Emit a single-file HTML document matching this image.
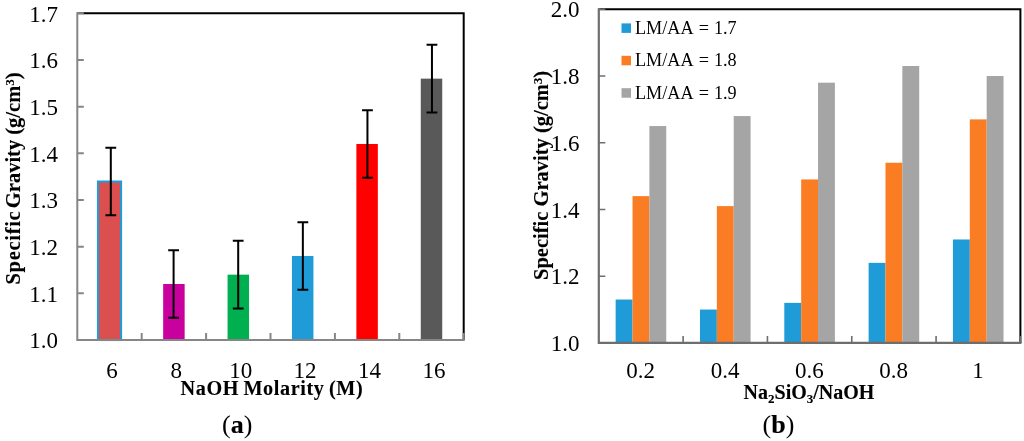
<!DOCTYPE html>
<html><head><meta charset="utf-8"><style>
html,body{margin:0;padding:0;background:#fff;width:1024px;height:441px;overflow:hidden}
svg{display:block;will-change:transform}
text{font-family:"Liberation Serif",serif;fill:#000;font-variant-ligatures:none;font-kerning:none}
[font-weight="bold"]{stroke:#000;stroke-width:0.12px}
</style></head><body>
<svg width="1024" height="441" viewBox="0 0 1024 441">
<rect width="1024" height="441" fill="#fff"/>
<path d="M77.3 13.3 H463.7 V340.0" fill="none" stroke="#000" stroke-width="2"/>
<rect x="97.95" y="181.55" width="23.1" height="158.45" fill="#DB504F" stroke="#1F9BD7" stroke-width="2.1"/>
<rect x="163.17" y="283.99" width="21.47" height="56.01" fill="#C8009E"/>
<rect x="227.57" y="274.66" width="21.47" height="65.34" fill="#00B050"/>
<rect x="291.97" y="255.99" width="21.47" height="84.01" fill="#1F9BD7"/>
<rect x="356.37" y="143.98" width="21.47" height="196.02" fill="#FF0000"/>
<rect x="420.77" y="78.64" width="21.47" height="261.36" fill="#595959"/>
<path d="M110.80 147.76 V215.34 M105.40 147.76 H116.20 M105.40 215.34 H116.20" stroke="#000" stroke-width="2" fill="none"/>
<path d="M173.60 250.20 V317.78 M168.20 250.20 H179.00 M168.20 317.78 H179.00" stroke="#000" stroke-width="2" fill="none"/>
<path d="M238.20 240.87 V308.45 M232.80 240.87 H243.60 M232.80 308.45 H243.60" stroke="#000" stroke-width="2" fill="none"/>
<path d="M302.85 222.20 V289.78 M297.45 222.20 H308.25 M297.45 289.78 H308.25" stroke="#000" stroke-width="2" fill="none"/>
<path d="M367.45 110.19 V177.77 M362.05 110.19 H372.85 M362.05 177.77 H372.85" stroke="#000" stroke-width="2" fill="none"/>
<path d="M431.95 44.85 V112.43 M426.55 44.85 H437.35 M426.55 112.43 H437.35" stroke="#000" stroke-width="2" fill="none"/>
<path d="M77.3 12.3 V340.0 H464.7" fill="none" stroke="#868686" stroke-width="2"/>
<path d="M77.3 340.00 H83.8 M77.3 293.33 H83.8 M77.3 246.66 H83.8 M77.3 199.99 H83.8 M77.3 153.31 H83.8 M77.3 106.64 H83.8 M77.3 59.97 H83.8 M77.3 13.30 H83.8 M141.70 340.0 V333.0 M206.10 340.0 V333.0 M270.50 340.0 V333.0 M334.90 340.0 V333.0 M399.30 340.0 V333.0 M463.70 340.0 V333.0 " stroke="#868686" stroke-width="2" fill="none"/>
<text x="58" y="348.4" text-anchor="end" font-size="23">1.0</text>
<text x="58" y="301.7" text-anchor="end" font-size="23">1.1</text>
<text x="58" y="255.1" text-anchor="end" font-size="23">1.2</text>
<text x="58" y="208.4" text-anchor="end" font-size="23">1.3</text>
<text x="58" y="161.7" text-anchor="end" font-size="23">1.4</text>
<text x="58" y="115.0" text-anchor="end" font-size="23">1.5</text>
<text x="58" y="68.4" text-anchor="end" font-size="23">1.6</text>
<text x="58" y="21.7" text-anchor="end" font-size="23">1.7</text>
<text x="111.9" y="378" text-anchor="middle" font-size="23">6</text>
<text x="176.3" y="378" text-anchor="middle" font-size="23">8</text>
<text x="240.7" y="378" text-anchor="middle" font-size="23">10</text>
<text x="305.1" y="378" text-anchor="middle" font-size="23">12</text>
<text x="369.5" y="378" text-anchor="middle" font-size="23">14</text>
<text x="433.9" y="378" text-anchor="middle" font-size="23">16</text>
<text x="271.9" y="395.2" text-anchor="middle" font-size="20.2" letter-spacing="0.6" word-spacing="-1.2" font-weight="bold">NaOH Molarity (M)</text>
<text x="237.2" y="432.8" text-anchor="middle" font-size="26">(<tspan font-weight="bold">a</tspan>)</text>
<text transform="translate(20,284.5) rotate(-90)" font-size="20.5" font-weight="bold"><tspan letter-spacing="0.7">Specific</tspan><tspan dx="-2.7"> Gravity (g/cm</tspan><tspan font-size="13" dy="-6">3</tspan><tspan dy="6">)</tspan></text>
<path d="M598.8 9.3 H1020.4 V342.9" fill="none" stroke="#000" stroke-width="2"/>
<rect x="615.66" y="299.53" width="16.86" height="43.37" fill="#1F9BD7"/>
<rect x="632.53" y="196.12" width="16.86" height="146.78" fill="#FA7D23"/>
<rect x="649.39" y="126.06" width="16.86" height="216.84" fill="#A5A5A5"/>
<rect x="699.98" y="309.54" width="16.86" height="33.36" fill="#1F9BD7"/>
<rect x="716.85" y="206.12" width="16.86" height="136.78" fill="#FA7D23"/>
<rect x="733.71" y="116.05" width="16.86" height="226.85" fill="#A5A5A5"/>
<rect x="784.30" y="302.87" width="16.86" height="40.03" fill="#1F9BD7"/>
<rect x="801.17" y="179.44" width="16.86" height="163.46" fill="#FA7D23"/>
<rect x="818.03" y="82.69" width="16.86" height="260.21" fill="#A5A5A5"/>
<rect x="868.62" y="262.84" width="16.86" height="80.06" fill="#1F9BD7"/>
<rect x="885.49" y="162.76" width="16.86" height="180.14" fill="#FA7D23"/>
<rect x="902.35" y="66.01" width="16.86" height="276.89" fill="#A5A5A5"/>
<rect x="952.94" y="239.48" width="16.86" height="103.42" fill="#1F9BD7"/>
<rect x="969.81" y="119.39" width="16.86" height="223.51" fill="#FA7D23"/>
<rect x="986.67" y="76.02" width="16.86" height="266.88" fill="#A5A5A5"/>
<path d="M598.8 8.3 V342.9 H1021.4" fill="none" stroke="#6E6E6E" stroke-width="2.2"/>
<path d="M598.8 342.90 H605.3 M598.8 276.18 H605.3 M598.8 209.46 H605.3 M598.8 142.74 H605.3 M598.8 76.02 H605.3 M598.8 9.30 H605.3 M683.12 342.9 V335.9 M767.44 342.9 V335.9 M851.76 342.9 V335.9 M936.08 342.9 V335.9 M1020.40 342.9 V335.9 " stroke="#6E6E6E" stroke-width="1.6" fill="none"/>
<text x="579.5" y="350.9" text-anchor="end" font-size="23">1.0</text>
<text x="579.5" y="284.2" text-anchor="end" font-size="23">1.2</text>
<text x="579.5" y="217.5" text-anchor="end" font-size="23">1.4</text>
<text x="579.5" y="150.7" text-anchor="end" font-size="23">1.6</text>
<text x="579.5" y="84.0" text-anchor="end" font-size="23">1.8</text>
<text x="579.5" y="17.3" text-anchor="end" font-size="23">2.0</text>
<text x="640.7" y="377.7" text-anchor="middle" font-size="23">0.2</text>
<text x="725.0" y="377.7" text-anchor="middle" font-size="23">0.4</text>
<text x="809.3" y="377.7" text-anchor="middle" font-size="23">0.6</text>
<text x="893.6" y="377.7" text-anchor="middle" font-size="23">0.8</text>
<text x="977.9" y="377.7" text-anchor="middle" font-size="23">1</text>
<rect x="621.5" y="23.4" width="9.5" height="9.5" fill="#1F9BD7"/>
<text x="635" y="33.8" font-size="18.2" word-spacing="0.5">LM/AA = 1.7</text>
<rect x="621.5" y="55.8" width="9.5" height="9.5" fill="#FA7D23"/>
<text x="635" y="66.2" font-size="18.2" word-spacing="0.5">LM/AA = 1.8</text>
<rect x="621.5" y="88.2" width="9.5" height="9.5" fill="#A5A5A5"/>
<text x="635" y="98.6" font-size="18.2" word-spacing="0.5">LM/AA = 1.9</text>
<text x="809" y="398.9" text-anchor="middle" font-size="20" font-weight="bold">Na<tspan font-size="13" dy="4">2</tspan><tspan dy="-4">SiO</tspan><tspan font-size="13" dy="4">3</tspan><tspan dy="-4">/NaOH</tspan></text>
<text x="778.5" y="432.8" text-anchor="middle" font-size="26">(<tspan font-weight="bold">b</tspan>)</text>
<text transform="translate(547.5,280) rotate(-90)" font-size="20.5" font-weight="bold">Specific Gravity (g/cm<tspan font-size="13" dy="-6">3</tspan><tspan dy="6">)</tspan></text>
</svg>
</body></html>
